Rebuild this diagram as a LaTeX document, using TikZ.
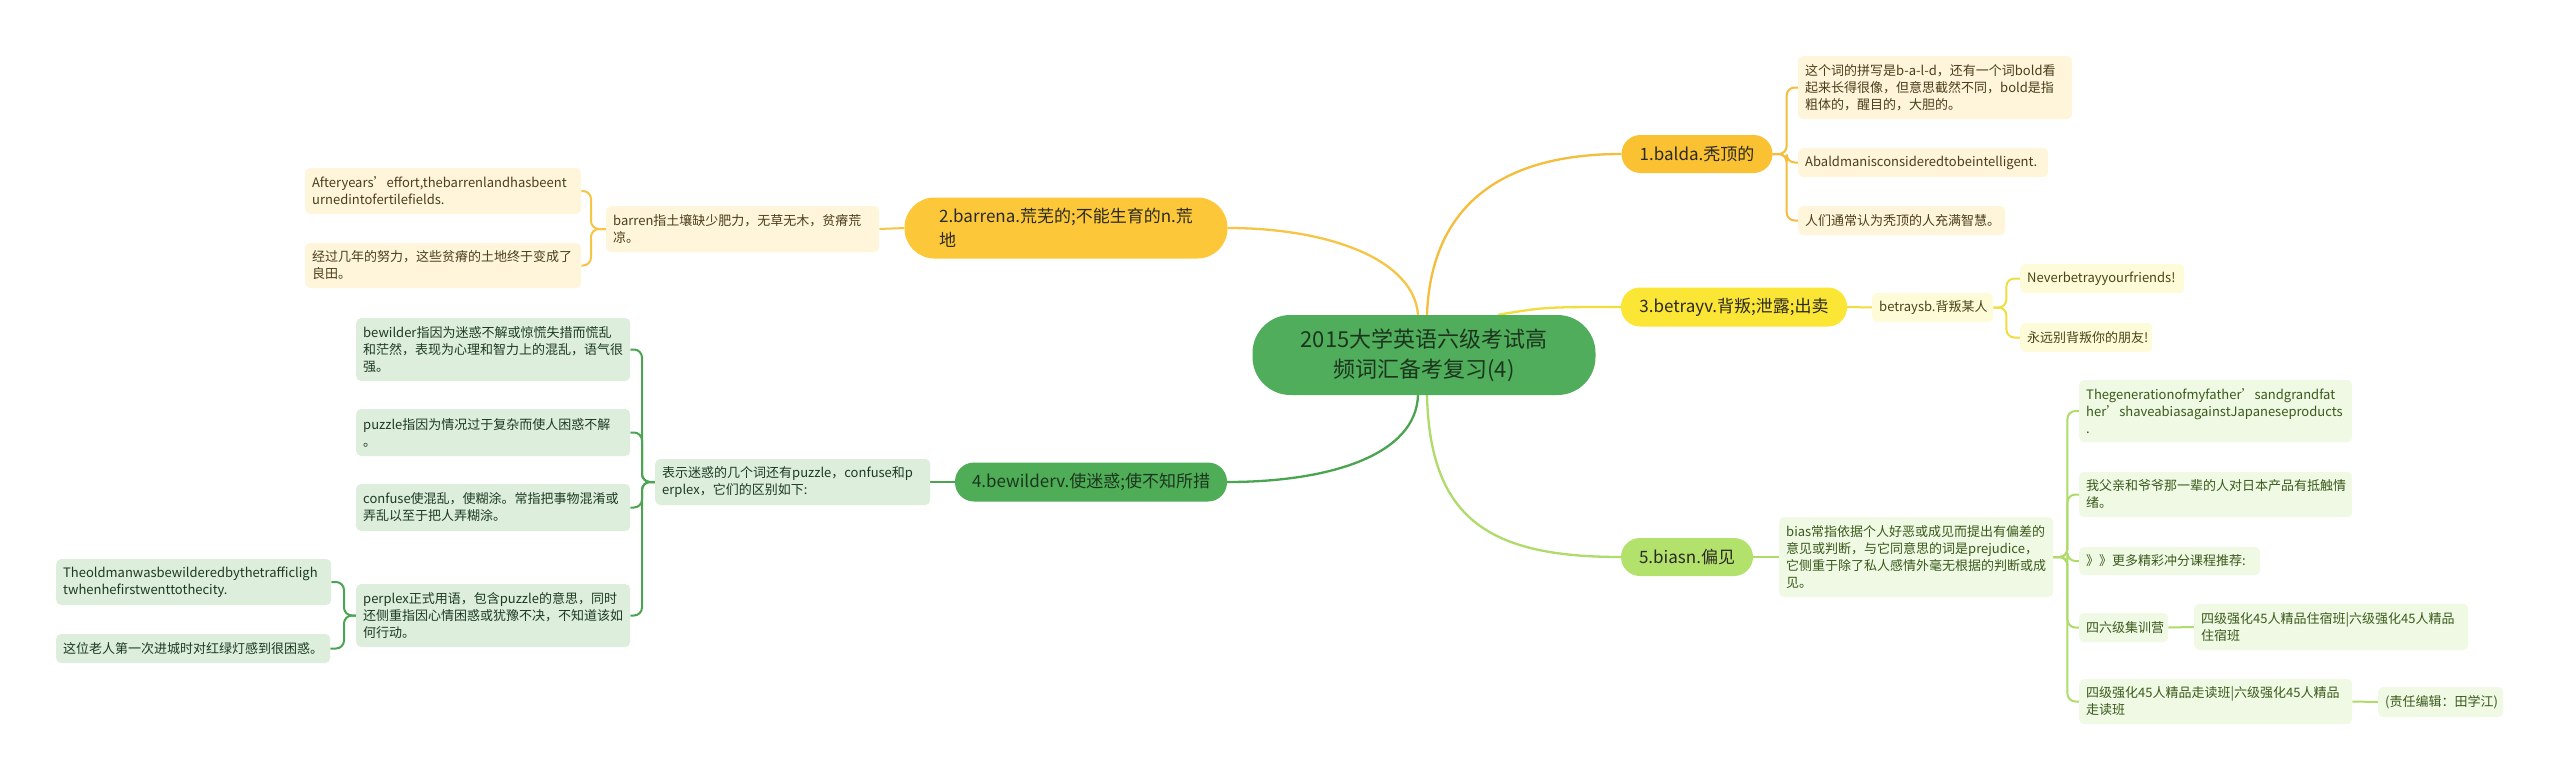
\documentclass[tikz,border=0pt]{standalone}
\usepackage{fontspec}
\setmainfont{Noto Sans CJK SC}
\usetikzlibrary{backgrounds}
\definecolor{rootfill}{HTML}{4FAD5B}
\definecolor{roottext}{HTML}{1C361E}
\definecolor{bonefill}{HTML}{FAC132}
\definecolor{boneline}{HTML}{F4BD3B}
\definecolor{btwofill}{HTML}{FCC83A}
\definecolor{btwoline}{HTML}{F6C545}
\definecolor{bthreefill}{HTML}{FBE635}
\definecolor{bthreeline}{HTML}{F2DD3E}
\definecolor{bfourfill}{HTML}{4FAD57}
\definecolor{bfourline}{HTML}{4BA450}
\definecolor{bfivefill}{HTML}{B3E26C}
\definecolor{bfiveline}{HTML}{AEDB6A}
\definecolor{leafy}{HTML}{FEF5DA}
\definecolor{leafyy}{HTML}{FEFBD9}
\definecolor{leafg}{HTML}{DDEEDD}
\definecolor{leafl}{HTML}{EFF9E3}
\definecolor{tyel}{HTML}{4B3E1A}
\definecolor{tyy}{HTML}{4A4416}
\definecolor{tgrn}{HTML}{1D3B1F}
\definecolor{tlim}{HTML}{3A5A1C}
\definecolor{tdark}{HTML}{2B2A22}
\tikzset{
  x=1pt, y=-1pt,
  leafbox/.style={rounded corners=5pt, inner xsep=7pt, inner ysep=0pt, align=left,
    anchor=west, font=\fontsize{13}{17}\selectfont},
  branchbox/.style={inner sep=0pt, font=\fontsize{17}{24}\selectfont, text=tdark},
  rootbox/.style={fill=rootfill, rounded corners=38pt, inner sep=0pt, align=center,
    minimum width=343pt, minimum height=80pt, text=roottext, font=\fontsize{22}{30}\selectfont},
  curveline/.style={line width=2.3pt},
  brackline/.style={line width=2pt, rounded corners=8pt},
}
\begin{document}
\begin{tikzpicture}
\useasboundingbox (0,0) rectangle (2560,782);

% root
\node[rootbox] (root) at (1424,355) {2015大学英语六级考试高\\频词汇备考复习(4)};

% branches
\node[branchbox, fill=bonefill, rounded corners=19pt, minimum width=151pt, minimum height=38pt] (b1) at (1697,154) {1.balda.秃顶的};
\node[branchbox, fill=btwofill, rounded corners=30pt, minimum width=323pt, minimum height=61pt, align=left] (b2) at (1066,228) {2.barrena.荒芜的;不能生育的n.荒\\地};
\node[branchbox, fill=bthreefill, rounded corners=19pt, minimum width=226pt, minimum height=39pt] (b3) at (1734,307) {3.betrayv.背叛;泄露;出卖};
\node[branchbox, fill=bfourfill, rounded corners=19pt, minimum width=272pt, minimum height=39pt, text=roottext] (b4) at (1091,482) {4.bewilderv.使迷惑;使不知所措};
\node[branchbox, fill=bfivefill, rounded corners=19pt, minimum width=132pt, minimum height=38pt] (b5) at (1687,557) {5.biasn.偏见};

% branch 1 leaves
\node[leafbox, fill=leafy, text=tyel, text width=260pt, minimum height=63pt] (l1a) at (1798,87.5) {这个词的拼写是b-a-l-d，还有一个词bold看\\起来长得很像，但意思截然不同，bold是指\\粗体的，醒目的，大胆的。};
\node[leafbox, fill=leafy, text=tyel, text width=236pt, minimum height=29pt] (l1b) at (1798,162.5) {Abaldmanisconsideredtobeintelligent.};
\node[leafbox, fill=leafy, text=tyel, text width=193pt, minimum height=29pt] (l1c) at (1798,220.5) {人们通常认为秃顶的人充满智慧。};

% branch 2 leaves
\node[leafbox, fill=leafy, text=tyel, text width=259pt, minimum height=46pt] (l2) at (606,229) {barren指土壤缺少肥力，无草无木，贫瘠荒\\凉。};
\node[leafbox, fill=leafy, text=tyel, text width=262pt, minimum height=46pt] (l2a) at (305,191) {Afteryears’effort,thebarrenlandhasbeent\\urnedintofertilefields.};
\node[leafbox, fill=leafy, text=tyel, text width=262pt, minimum height=45pt] (l2b) at (305,265.5) {经过几年的努力，这些贫瘠的土地终于变成了\\良田。};

% branch 3 leaves
\node[leafbox, fill=leafyy, text=tyy, text width=107pt, minimum height=29pt] (l3a) at (1872,307.5) {betraysb.背叛某人};
\node[leafbox, fill=leafyy, text=tyy, text width=150pt, minimum height=29pt] (l3b) at (2020,278.5) {Neverbetrayyourfriends!};
\node[leafbox, fill=leafyy, text=tyy, text width=118pt, minimum height=29pt] (l3c) at (2020,337.5) {永远别背叛你的朋友!};

% branch 4 leaves
\node[leafbox, fill=leafg, text=tgrn, text width=261pt, minimum height=46pt] (l4) at (655,482) {表示迷惑的几个词还有puzzle，confuse和p\\erplex，它们的区别如下:};
\node[leafbox, fill=leafg, text=tgrn, text width=260pt, minimum height=63pt] (l4a) at (356,349.5) {bewilder指因为迷惑不解或惊慌失措而慌乱\\和茫然，表现为心理和智力上的混乱，语气很\\强。};
\node[leafbox, fill=leafg, text=tgrn, text width=260pt, minimum height=47pt] (l4b) at (356,432.5) {puzzle指因为情况过于复杂而使人困惑不解\\。};
\node[leafbox, fill=leafg, text=tgrn, text width=260pt, minimum height=47pt] (l4c) at (356,507.5) {confuse使混乱，使糊涂。常指把事物混淆或\\弄乱以至于把人弄糊涂。};
\node[leafbox, fill=leafg, text=tgrn, text width=260pt, minimum height=63pt] (l4d) at (356,615.5) {perplex正式用语，包含puzzle的意思，同时\\还侧重指因心情困惑或犹豫不决，不知道该如\\何行动。};
\node[leafbox, fill=leafg, text=tgrn, text width=261pt, minimum height=46pt] (l4da) at (56,582) {Theoldmanwasbewilderedbythetrafficligh\\twhenhefirstwenttothecity.};
\node[leafbox, fill=leafg, text=tgrn, text width=260pt, minimum height=29pt] (l4db) at (56,648.5) {这位老人第一次进城时对红绿灯感到很困惑。};

% branch 5 leaves
\node[leafbox, fill=leafl, text=tlim, text width=260pt, minimum height=80pt] (l5) at (1779,557) {bias常指依据个人好恶或成见而提出有偏差的\\意见或判断，与它同意思的词是prejudice，\\它侧重于除了私人感情外毫无根据的判断或成\\见。};
\node[leafbox, fill=leafl, text=tlim, text width=259pt, minimum height=62pt] (l5a) at (2079,411) {Thegenerationofmyfather’sandgrandfat\\her’shaveabiasagainstJapaneseproducts\\.};
\node[leafbox, fill=leafl, text=tlim, text width=259pt, minimum height=45pt] (l5b) at (2079,494.5) {我父亲和爷爷那一辈的人对日本产品有抵触情\\绪。};
\node[leafbox, fill=leafl, text=tlim, text width=167pt, minimum height=28pt] (l5c) at (2079,561) {》》更多精彩冲分课程推荐:};
\node[leafbox, fill=leafl, text=tlim, text width=75pt, minimum height=29pt] (l5d) at (2079,627.5) {四六级集训营};
\node[leafbox, fill=leafl, text=tlim, text width=260pt, minimum height=46pt] (l5da) at (2194,627) {四级强化45人精品住宿班|六级强化45人精品\\住宿班};
\node[leafbox, fill=leafl, text=tlim, text width=259pt, minimum height=45pt] (l5e) at (2079,701.5) {四级强化45人精品走读班|六级强化45人精品\\走读班};
\node[leafbox, fill=leafl, text=tlim, text width=111pt, minimum height=30pt] (l5ea) at (2378,702) {(责任编辑：田学江)};

\begin{scope}[on background layer]
\fill[white] (0,0) rectangle (2560,782);
% root to branches
\draw[curveline, boneline] ([xshift=3pt]root.north) .. controls (1430,230) and (1475,154) .. (b1.west);
\draw[curveline, btwoline] ([xshift=-6pt]root.north) .. controls (1414,260) and (1330,228) .. (b2.east);
\draw[curveline, bthreeline] ([xshift=74pt]root.north) .. controls (1545,307) .. (b3.west);
\draw[curveline, bfourline] ([xshift=-6pt]root.south) .. controls (1416,455) and (1330,482) .. (b4.east);
\draw[curveline, bfiveline] ([xshift=3pt]root.south) .. controls (1430,520) and (1490,557) .. (b5.west);

% branch 1
\draw[brackline, boneline] (b1.east) -- ++(14,0) |- (l1a.west);
\draw[brackline, boneline] (b1.east) -- ++(14,0) |- (l1b.west);
\draw[brackline, boneline] (b1.east) -- ++(14,0) |- (l1c.west);
% branch 2
\draw[brackline, btwoline] (b2.west) -- (l2.east);
\draw[brackline, btwoline] (l2.west) -- ++(-15,0) |- (l2a.east);
\draw[brackline, btwoline] (l2.west) -- ++(-15,0) |- (l2b.east);
% branch 3
\draw[brackline, bthreeline] (b3.east) -- (l3a.west);
\draw[brackline, bthreeline] (l3a.east) -- ++(13,0) |- (l3b.west);
\draw[brackline, bthreeline] (l3a.east) -- ++(13,0) |- (l3c.west);
% branch 4
\draw[brackline, bfourline] (b4.west) -- (l4.east);
\draw[brackline, bfourline] (l4.west) -- ++(-13,0) |- (l4a.east);
\draw[brackline, bfourline] (l4.west) -- ++(-13,0) |- (l4b.east);
\draw[brackline, bfourline] (l4.west) -- ++(-13,0) |- (l4c.east);
\draw[brackline, bfourline] (l4.west) -- ++(-13,0) |- (l4d.east);
\draw[brackline, bfourline] (l4d.west) -- ++(-12,0) |- (l4da.east);
\draw[brackline, bfourline] (l4d.west) -- ++(-12,0) |- (l4db.east);
% branch 5
\draw[brackline, bfiveline] (b5.east) -- (l5.west);
\draw[brackline, bfiveline] (l5.east) -- ++(14,0) |- (l5a.west);
\draw[brackline, bfiveline] (l5.east) -- ++(14,0) |- (l5b.west);
\draw[brackline, bfiveline] (l5.east) -- ++(14,0) |- (l5c.west);
\draw[brackline, bfiveline] (l5.east) -- ++(14,0) |- (l5d.west);
\draw[brackline, bfiveline] (l5.east) -- ++(14,0) |- (l5e.west);
\draw[brackline, bfiveline] (l5d.east) -- (l5da.west);
\draw[brackline, bfiveline] (l5e.east) -- (l5ea.west);
\end{scope}
\end{tikzpicture}
\end{document}
